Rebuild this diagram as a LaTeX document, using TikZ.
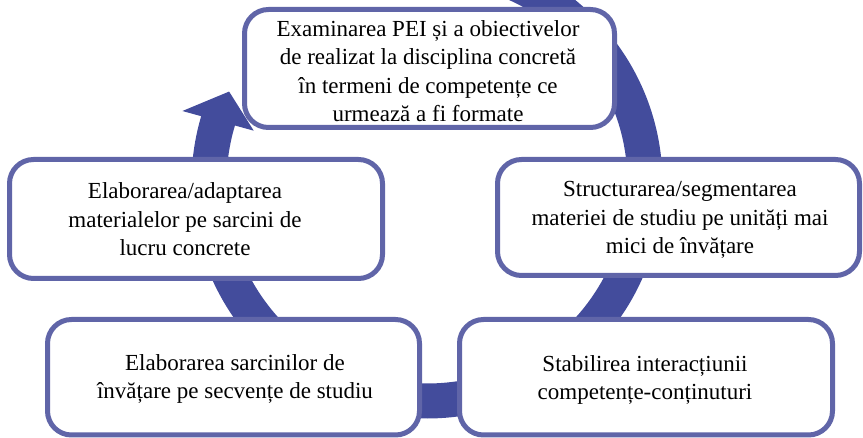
\documentclass[tikz,border=0pt]{standalone}
\usepackage{fontspec}
\setmainfont{Liberation Serif}
\usetikzlibrary{calc}
\definecolor{ringcol}{RGB}{67,76,156}
\definecolor{boxcol}{RGB}{96,101,168}
\tikzset{
  stagebox/.style={draw=boxcol, line width=5pt, fill=white, rounded corners=24pt, inner sep=0pt},
  stagetext/.style={align=center, inner sep=0pt, text=black, font=\fontsize{23}{28.5}\selectfont},
  ringline/.style={draw=ringcol, line width=35pt},
}
\begin{document}
\begin{tikzpicture}[x=1pt, y=-1pt]
\useasboundingbox (0,0) rectangle (863,438);
\clip (0,0) rectangle (863,438);
\coordinate (C) at (427,183);
% cycle ring with arrow
\draw[ringline] ($(C)+(-90:218)$) arc[start angle=-90, end angle=197.5, radius=218];
\fill[ringcol] ($(C)+(196.4:255)$) -- ($(C)+(204.8:218)$) -- ($(C)+(196.8:181)$) -- cycle;
% boxes
\node[stagebox, minimum width=370pt, minimum height=118pt] (T) at (429.5,68.5) {};
\node[stagebox, minimum width=362pt, minimum height=116pt] (R) at (678.5,217.5) {};
\node[stagebox, minimum width=373pt, minimum height=115.5pt] (BR) at (646,377.25) {};
\node[stagebox, minimum width=372pt, minimum height=115.5pt] (BL) at (233.5,377.25) {};
\node[stagebox, minimum width=373pt, minimum height=119pt] (L) at (196,219) {};
% texts
\node[stagetext] (Tt) at (428,71) {Examinarea PEI și a obiectivelor\\de realizat la disciplina concretă\\în termeni de competențe ce\\urmează a fi formate};
\node[stagetext] (Rt) at (680,220) {Structurarea/segmentarea\\materiei de studiu pe unități mai\\mici de învățare};
\node[stagetext] (BRt) at (645,380) {Stabilirea interacțiunii\\competențe-conținuturi};
\node[stagetext] (BLt) at (235,379) {Elaborarea sarcinilor de\\învățare pe secvențe de studiu};
\node[stagetext] (Lt) at (185,219.6) {Elaborarea/adaptarea\\materialelor pe sarcini de\\lucru concrete};
\end{tikzpicture}
\end{document}
